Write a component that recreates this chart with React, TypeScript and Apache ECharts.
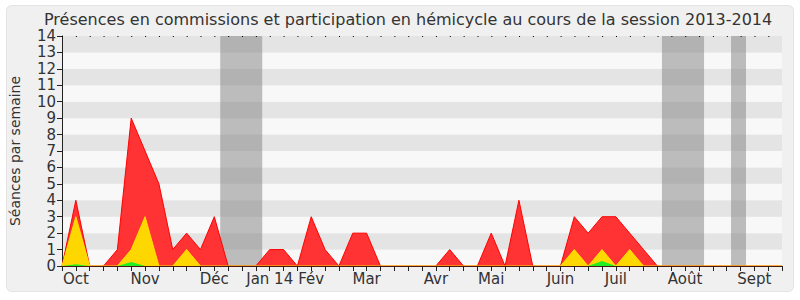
import React, { useEffect, useRef } from "react";
import * as echarts from "echarts";

const TITLE = "Présences en commissions et participation en hémicycle au cours de la session 2013-2014";
const Y_NAME = "Séances par semaine";

// week index 0..52
const hemicycle = [0, 4, 0, 0, 1, 9, 7, 5, 1, 2, 1, 3, 0, 0, 0, 1, 1, 0, 3, 1, 0, 2, 2, 0, 0, 0, 0, 0, 1, 0, 0, 2, 0, 4, 0, 0, 0, 3, 2, 3, 3, 2, 1, 0, 0, 0, 0, 0, 0, 0, 0, 0, 0];
const commissions = [0, 3, 0, 0, 0, 1, 3, 0, 0, 1, 0, 0, 0, 0, 0, 0, 0, 0, 0, 0, 0, 0, 0, 0, 0, 0, 0, 0, 0, 0, 0, 0, 0, 0, 0, 0, 0, 1, 0, 1, 0, 1, 0, 0, 0, 0, 0, 0, 0, 0, 0, 0, 0];
const other = [0, 0.1, 0, 0, 0, 0.25, 0, 0, 0, 0, 0, 0, 0, 0, 0, 0, 0, 0, 0, 0, 0, 0, 0, 0, 0, 0, 0, 0, 0, 0, 0, 0, 0, 0, 0, 0, 0, 0, 0, 0.3, 0, 0, 0, 0, 0, 0, 0, 0, 0, 0, 0, 0, 0];

const monthPositions = [1, 6, 11, 15, 18, 22, 27, 31, 36, 40, 45, 50];
const monthLabels = ["Oct", "Nov", "Déc", "Jan 14", "Fév", "Mar", "Avr", "Mai", "Juin", "Juil", "Août", "Sept"];

const vacationStarts = [11.43, 43.33, 48.32];
const vacationEnds = [14.46, 46.37, 49.4];

const FONT = "DejaVu Sans";

export default function App() {
  const ref = useRef<HTMLDivElement>(null);
  useEffect(() => {
    if (!ref.current) return;
    const chart = echarts.init(ref.current, null, { renderer: "svg" });
    const toPairs = (arr: number[]) => arr.map((v, i) => [i, v]);
    const labelMap: Record<number, string> = {};
    monthPositions.forEach((p, i) => (labelMap[p] = monthLabels[i]));
    chart.setOption({
      animation: false,
      backgroundColor: "#ffffff",
      title: {
        text: TITLE,
        left: 44,
        top: 10,
        padding: 0,
        textStyle: { fontFamily: FONT, fontSize: 16, lineHeight: 18, fontWeight: "normal", color: "#333333" },
      },
      graphic: [
        {
          type: "rect",
          z: -100,
          shape: { x: 6.5, y: 5.5, width: 787, height: 286, r: 5 },
          style: { fill: "#f0f0f0", stroke: "#e4e4e4", lineWidth: 1 },
        },
      ],
      grid: { left: 61.7, right: 18, top: 36, bottom: 34, containLabel: false },
      xAxis: {
        type: "value",
        min: 0,
        max: 52,
        interval: 1,
        z: 10,
        axisLine: { show: true, onZero: false, lineStyle: { color: "#4a1a10", width: 1 } },
        axisTick: { show: true, length: 5, lineStyle: { color: "#222222" } },
        splitLine: { show: false },
        axisLabel: {
          show: true,
          margin: 5,
          fontFamily: FONT,
          fontSize: 15,
          color: "#333333",
          formatter: (v: number) => labelMap[Math.round(v)] ?? "",
        },
      },
      yAxis: {
        type: "value",
        min: 0,
        max: 14,
        interval: 1,
        name: Y_NAME,
        nameLocation: "middle",
        nameGap: 40,
        nameTextStyle: { fontFamily: FONT, fontSize: 14, color: "#333333" },
        axisLine: { show: true, lineStyle: { color: "#222222" } },
        axisTick: { show: true, length: 5, lineStyle: { color: "#222222" } },
        axisLabel: { fontFamily: FONT, fontSize: 15, lineHeight: 14, color: "#333333", margin: 6 },
        splitLine: { show: false },
        splitArea: { show: true, areaStyle: { color: ["#f8f8f8", "#e4e4e4"] } },
      },
      series: [
        {
          type: "line",
          name: "hemicycle",
          data: toPairs(hemicycle),
          symbol: "none",
          z: 2,
          lineStyle: { color: "#ff0000", width: 1 },
          areaStyle: { color: "#ff3333", opacity: 1 },
          markLine: {
            silent: true,
            symbol: "none",
            label: { show: false },
            lineStyle: { color: "#000000", width: 1, type: [1, 12.85] },
            data: [{ yAxis: 14 }],
          },
        },
        {
          type: "line",
          name: "commissions",
          data: toPairs(commissions),
          symbol: "none",
          z: 3,
          lineStyle: { color: "#ffe000", width: 1 },
          areaStyle: { color: "#ffd700", opacity: 1 },
        },
        {
          type: "line",
          name: "other",
          data: toPairs(other),
          symbol: "none",
          z: 4,
          lineStyle: { color: "#00dd00", width: 0 },
          areaStyle: { color: "#22ee22", opacity: 1 },
        },
        {
          type: "line",
          name: "vacances",
          data: [],
          z: 5,
          markArea: {
            silent: true,
            itemStyle: { color: "rgba(128,128,128,0.5)" },
            data: vacationStarts.map((s, i) => [{ xAxis: s }, { xAxis: vacationEnds[i] }]),
          },
        },
      ],
    });
    return () => chart.dispose();
  }, []);
  return <div ref={ref} style={{ position: "fixed", left: 0, top: 0, width: 800, height: 300 }} />;
}
